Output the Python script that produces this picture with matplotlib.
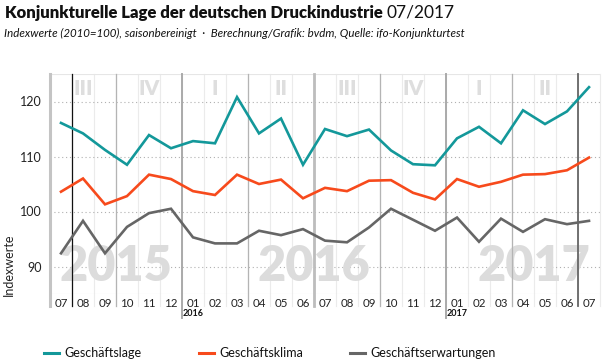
import matplotlib.pyplot as plt
from matplotlib.lines import Line2D
from matplotlib.transforms import blended_transform_factory

plt.rcParams['font.family'] = ['Lato', 'DejaVu Sans']

# data: 07/2015 .. 07/2017, Indexwerte (2010=100)
months = ['07', '08', '09', '10', '11', '12',
          '01', '02', '03', '04', '05', '06', '07', '08', '09', '10', '11', '12',
          '01', '02', '03', '04', '05', '06', '07']
lage = [116.1, 114.2, 111.2, 108.5, 113.9, 111.5,
        112.8, 112.4, 120.8, 114.2, 116.9, 108.5, 115.0, 113.7, 114.9, 111.1, 108.6, 108.4,
        113.3, 115.4, 112.4, 118.4, 115.9, 118.2, 122.6]
klima = [103.6, 106.0, 101.3, 102.8, 106.7, 105.9,
         103.7, 103.0, 106.7, 105.0, 105.8, 102.4, 104.3, 103.7, 105.6, 105.7, 103.4, 102.2,
         105.9, 104.5, 105.4, 106.7, 106.8, 107.5, 109.8]
erwartungen = [92.4, 98.3, 92.4, 97.2, 99.7, 100.5,
               95.3, 94.2, 94.2, 96.5, 95.7, 96.8, 94.7, 94.4, 97.1, 100.5, 98.5, 96.5,
               98.9, 94.5, 98.7, 96.3, 98.6, 97.7, 98.3]
series_names = ['Geschäftslage', 'Geschäftsklima', 'Geschäftserwartungen']
series_colors = ['#13989a', '#f74a1c', '#666666']
quarters = ['III', 'IV', 'I', 'II', 'III', 'IV', 'I', 'II']
years = ['2015', '2016', '2017']
yticks = [90, 100, 110, 120]

W, H = 610, 362
fig = plt.figure(figsize=(W / 100, H / 100), dpi=100)
ax = fig.add_axes([50 / W, 1 - 294 / H, 550 / W, 220 / H])
x = list(range(len(months)))

ax.set_xlim(-0.5, len(months) - 0.5)
ax.set_ylim(85, 125)
for s in ax.spines.values():
    s.set_visible(False)

# column grid
below = -12 / 220
for b in range(1, len(months) + 1):
    ax.axvline(b - 0.5, ymin=below, ymax=1, color='#ebebeb', lw=0.8, zorder=0, clip_on=False)
ax.axhline(125, color='#e6e6e6', lw=0.8, zorder=0)
ax.axhline(85, color='#e6e6e6', lw=0.8, zorder=0)
for q in [3, 9, 15, 21]:
    ax.axvline(q - 0.5, ymin=below, ymax=1, color='#b4b4b4', lw=0.9, zorder=1, clip_on=False)
ax.axvline(11.5, ymin=below, ymax=1, color='#bdbdbd', lw=2.0, zorder=1, clip_on=False)
for yb in [6, 18]:
    ax.axvline(yb - 0.5, ymin=-24 / 220, ymax=1, color='#aaaaaa', lw=1.4, zorder=1, clip_on=False)
ax.axvline(-0.5, ymin=below, ymax=1, color='#c4c4c4', lw=2.2, zorder=1, clip_on=False)
ax.axvline(0.5, ymin=below, ymax=1, color='#111111', lw=0.9, zorder=1, clip_on=False)
ax.axvline(23.5, ymin=below, ymax=1, color='#666666', lw=1.3, zorder=1, clip_on=False)

for yv in yticks:
    ax.axhline(yv, color='#b0b0b0', lw=0.8, ls=(0, (1, 2.5)), zorder=0)

# background labels
for i, q in enumerate(quarters):
    ax.text(1 + 3 * i, 122.4, q, ha='center', va='center', fontsize=15,
            fontweight='heavy', color='#dedede', zorder=0)
for xp, yr in zip([2.5, 11.5, 21.5], years):
    ax.text(xp, 90.0, yr, ha='center', va='center', fontsize=35,
            fontweight='heavy', color='#dcdcdc', zorder=0)

for vals, c in zip([lage, klima, erwartungen], series_colors):
    ax.plot(x, vals, color=c, lw=1.9, zorder=3, solid_joinstyle='miter')

ax.set_yticks(yticks)
ax.set_yticklabels([str(v) for v in yticks], fontsize=9, color='#222222')
ax.set_xticks(x)
ax.set_xticklabels(months, fontsize=8.3, color='#222222')
ax.tick_params(axis='both', length=0)
ax.tick_params(axis='x', pad=3)
ax.tick_params(axis='y', pad=6)
ax.set_ylabel('Indexwerte', fontsize=9, color='#222222')
ax.yaxis.set_label_coords(-35 / 550, (294 - 265) / 220)

tr = blended_transform_factory(ax.transData, ax.transAxes)
for xb, yr in zip([6, 18], years[1:]):
    ax.text(xb - 0.45, -20 / 220, yr, transform=tr, ha='left', va='center',
            fontsize=6.5, fontweight='bold', color='#111111')

# title
t = fig.text(5 / W, 1 - 13 / H, 'Konjunkturelle Lage der deutschen Druckindustrie',
             fontsize=12, fontweight='heavy', color='#111111', va='center')
fig.canvas.draw()
bb = t.get_window_extent()
fig.text((bb.x1 + 4) / W, 1 - 13 / H, '07/2017', fontsize=12.5, color='#111111', va='center')
fig.text(4 / W, 1 - 33 / H,
         'Indexwerte (2010=100), saisonbereinigt  ·  Berechnung/Grafik: bvdm, Quelle: ifo-Konjunkturtest',
         fontsize=8.3, style='italic', color='#111111', va='center')

# legend
for xs, name, c in zip([44, 199, 350], series_names, series_colors):
    fig.add_artist(Line2D([xs / W, (xs + 15) / W], [1 - 353 / H] * 2, color=c, lw=2.2))
    fig.text((xs + 20) / W, 1 - 353 / H, name, fontsize=9, color='#111111', va='center')

fig.savefig('out.png', dpi=100)
